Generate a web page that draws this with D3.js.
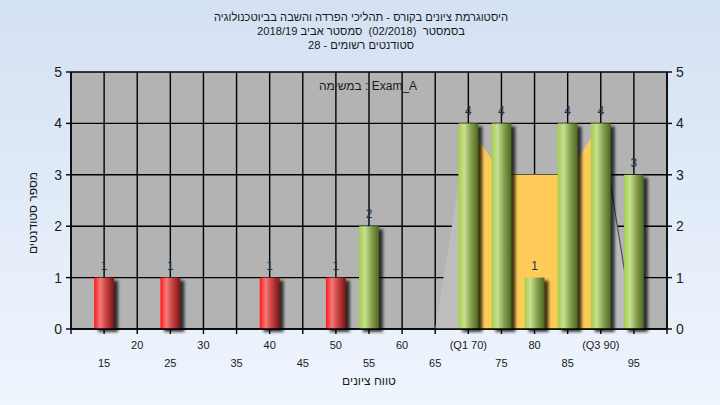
<!DOCTYPE html>
<html><head><meta charset="utf-8">
<script src="https://cdn.jsdelivr.net/npm/d3@7"></script>
<style>html,body{margin:0;padding:0;overflow:hidden;background:#fff} text{white-space:pre}</style>
</head><body>
<svg id="c" width="720" height="405"></svg>
<script>
// ---- data ----
const grades = [15,20,25,30,35,40,45,50,55,60,65,70,75,80,85,90,95];
const counts = [1,0,1,0,0,1,0,1,2,0,0,4,4,1,4,4,3];
const passGrade = 55;
const upperTickValues = [20,30,40,50,60,70,80,90];
const upperTickLabels = ["20","30","40","50","60","(Q1 70)","80","(Q3 90)"];
const lowerTickValues = [15,25,35,45,55,65,75,85,95];
const lowerTickLabels = ["15","25","35","45","55","65","75","85","95"];
const yTicks = [0,1,2,3,4,5];
const rangeGrades = [65,70,75,80,85,90,95];
const rangeValues = [0,4,3,3,3,4,0];
const quartGrades = [70,75,80,85,90];
const quartValues = [4,3,3,3,4];
const titleLines = [
  "היסטוגרמת ציונים בקורס - תהליכי הפרדה והשבה בביוטכנולוגיה",
  "בסמסטר  (02/2018)  סמסטר אביב 2018/19",
  "סטודנטים רשומים - 28"
];
const legendText = "במשימה : Exam_A";
const yTitle = "מספר סטודנטים";
const xTitle = "טווח ציונים";

// ---- drawing ----
const svg = d3.select("#c");
const W = 720, H = 405;
const defs = svg.append("defs");
const bg = defs.append("linearGradient").attr("id","bg").attr("x1",0).attr("y1",0).attr("x2",0).attr("y2",1);
bg.append("stop").attr("offset","0%").attr("stop-color","#D4E1F3");
bg.append("stop").attr("offset","100%").attr("stop-color","#EFF5FD");
const gr = defs.append("linearGradient").attr("id","gRed").attr("x1",0).attr("y1",0).attr("x2",1).attr("y2",0);
[["0%","#FF1818"],["30%","#F47A7A"],["60%","#C84444"],["100%","#7A1414"]].forEach(s=>gr.append("stop").attr("offset",s[0]).attr("stop-color",s[1]));
const gg = defs.append("linearGradient").attr("id","gGreen").attr("x1",0).attr("y1",0).attr("x2",1).attr("y2",0);
[["0%","#A4CE48"],["30%","#C6E192"],["65%","#849C4C"],["100%","#4C6820"]].forEach(s=>gg.append("stop").attr("offset",s[0]).attr("stop-color",s[1]));
const f = defs.append("filter").attr("id","blur").attr("x","-50%").attr("y","-50%").attr("width","200%").attr("height","200%");
f.append("feGaussianBlur").attr("stdDeviation",1.6);

svg.append("rect").attr("width",W).attr("height",H).attr("fill","url(#bg)");

const x = d3.scaleLinear().domain([10,100]).range([71,667]);
const y = d3.scaleLinear().domain([0,5]).range([329,72]);

// plot area
svg.append("rect").attr("x",x(10)).attr("y",y(5)).attr("width",x(100)-x(10)).attr("height",y(0)-y(5)).attr("fill","#B3B3B3");

// grid
const gridX = d3.range(10,101,5);
svg.append("g").selectAll("line").data(gridX).join("line")
  .attr("x1",d=>x(d)).attr("x2",d=>x(d)).attr("y1",y(5)).attr("y2",y(0))
  .attr("stroke","#000").attr("stroke-width",1.4);
svg.append("g").selectAll("line").data(yTicks).join("line")
  .attr("x1",x(10)).attr("x2",x(100)).attr("y1",d=>y(d)).attr("y2",d=>y(d))
  .attr("stroke","#000").attr("stroke-width",1.4);

// range area (light gray)
const area = d3.area().x(d=>x(d[0])).y0(y(0)).y1(d=>y(d[1]));
const rangeData = rangeGrades.map((g,i)=>[g,rangeValues[i]]);
svg.append("path").datum(rangeData).attr("d",area).attr("fill","#BDBDBD");
const line = d3.line().x(d=>x(d[0])).y(d=>y(d[1]));
svg.append("path").datum(rangeData.slice(-2)).attr("d",line).attr("fill","none").attr("stroke","#505050").attr("stroke-width",1.2);
// quartile area (yellow)
const quartData = quartGrades.map((g,i)=>[g,quartValues[i]]);
svg.append("path").datum(quartData).attr("d",area).attr("fill","#FFCB58");

// bars
const bw = (x(5)-x(0))*0.6;
const barData = grades.map((g,i)=>({g, v:counts[i]})).filter(d=>d.v>0);
svg.append("g").selectAll("rect").data(barData).join("rect")
  .attr("x",d=>x(d.g)-bw/2+4).attr("y",d=>y(d.v)+3)
  .attr("width",bw).attr("height",d=>y(0)-y(d.v))
  .attr("fill","#000").attr("opacity",0.75).attr("filter","url(#blur)");
svg.append("g").selectAll("rect").data(barData).join("rect")
  .attr("x",d=>x(d.g)-bw/2).attr("y",d=>y(d.v))
  .attr("width",bw).attr("height",d=>y(0)-y(d.v))
  .attr("fill",d=>d.g<passGrade?"url(#gRed)":"url(#gGreen)");
svg.append("g").selectAll("text").data(barData).join("text")
  .attr("x",d=>x(d.g)).attr("y",d=>y(d.v)-8)
  .attr("text-anchor","middle").attr("font-family","Liberation Sans, Arial, sans-serif")
  .attr("font-size",12).attr("fill","#1E3350").text(d=>d.v);

// axes lines
const axisG = svg.append("g").attr("stroke","#000").attr("stroke-width",1.4);
axisG.append("line").attr("x1",x(10)).attr("x2",x(10)).attr("y1",y(5)).attr("y2",y(0));
axisG.append("line").attr("x1",x(100)).attr("x2",x(100)).attr("y1",y(5)).attr("y2",y(0));
axisG.append("line").attr("x1",x(10)).attr("x2",x(100)).attr("y1",y(0)).attr("y2",y(0));
axisG.selectAll(".tl").data(yTicks).join("line").attr("class","tl")
  .attr("x1",x(10)-5).attr("x2",x(10)).attr("y1",d=>y(d)).attr("y2",d=>y(d));
axisG.selectAll(".tr").data(yTicks).join("line").attr("class","tr")
  .attr("x1",x(100)).attr("x2",x(100)+5).attr("y1",d=>y(d)).attr("y2",d=>y(d));
axisG.selectAll(".tb").data(gridX).join("line").attr("class","tb")
  .attr("x1",d=>x(d)).attr("x2",d=>x(d)).attr("y1",y(0)).attr("y2",y(0)+5);

const font = "Liberation Sans, Arial, sans-serif";
svg.append("g").selectAll("text").data(yTicks).join("text")
  .attr("x",x(10)-9).attr("y",d=>y(d)+5).attr("text-anchor","end")
  .attr("font-family",font).attr("font-size",14).attr("fill","#1a1a1a").text(d=>d);
svg.append("g").selectAll("text").data(yTicks).join("text")
  .attr("x",x(100)+9).attr("y",d=>y(d)+5).attr("text-anchor","start")
  .attr("font-family",font).attr("font-size",14).attr("fill","#1a1a1a").text(d=>d);

svg.append("g").selectAll("text").data(upperTickValues).join("text")
  .attr("x",d=>x(d)).attr("y",349).attr("text-anchor","middle")
  .attr("font-family",font).attr("font-size",11).attr("fill","#1a1a1a")
  .text((d,i)=>upperTickLabels[i]);
svg.append("g").selectAll("text").data(lowerTickValues).join("text")
  .attr("x",d=>x(d)).attr("y",367).attr("text-anchor","middle")
  .attr("font-family",font).attr("font-size",11).attr("fill","#1a1a1a")
  .text((d,i)=>lowerTickLabels[i]);

// titles
svg.append("g").selectAll("text").data(titleLines).join("text")
  .attr("x",361).attr("y",(d,i)=>21+i*14).attr("text-anchor","middle")
  .attr("direction","rtl")
  .attr("font-family",font).attr("font-size",11.2).attr("fill","#1a1a1a").text(d=>d);

svg.append("text").attr("x",368).attr("y",90).attr("text-anchor","middle")
  .attr("font-family",font).attr("font-size",12).attr("fill","#1a1a1a").text(legendText);

svg.append("text").attr("transform","translate(37,213) rotate(-90)").attr("text-anchor","middle")
  .attr("direction","rtl").attr("font-family",font).attr("font-size",12).attr("fill","#1a1a1a").text(yTitle);
svg.append("text").attr("x",369).attr("y",385).attr("text-anchor","middle")
  .attr("direction","rtl").attr("font-family",font).attr("font-size",12).attr("fill","#1a1a1a").text(xTitle);
</script>
</body></html>
